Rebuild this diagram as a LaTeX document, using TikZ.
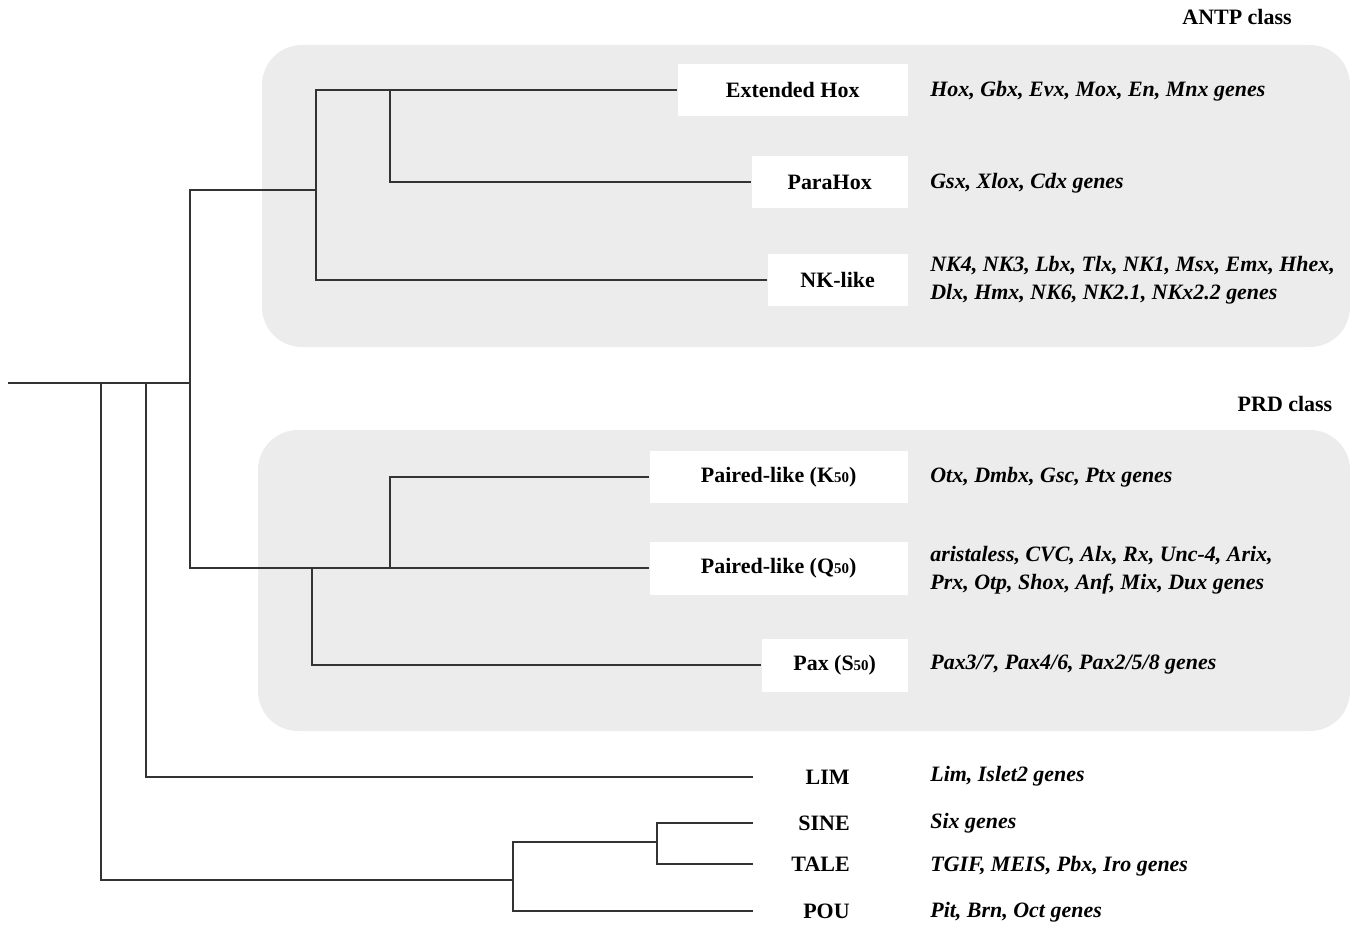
\documentclass[tikz,border=0pt]{standalone}
\usepackage{fontspec}
\setmainfont{Liberation Serif}
\usetikzlibrary{positioning,calc}
\newcommand{\resfifty}{{\fontsize{8.5}{9}\selectfont 50}}

\begin{document}
\begin{tikzpicture}[
    x=0.02cm, y=-0.02cm,
    font=\fontsize{12.5}{15.9}\selectfont,
    clade/.style={fill=white, font=\fontsize{12.5}{15}\selectfont\bfseries, minimum height=1.06cm, inner sep=0pt, anchor=east},
    family/.style={font=\fontsize{12.5}{15}\selectfont\bfseries, text width=1.92cm, align=right, inner sep=0pt, anchor=east},
    genes/.style={font=\fontsize{12.5}{15.9}\selectfont\bfseries\itshape, align=left, anchor=west, inner sep=0pt},
    heading/.style={font=\fontsize{12.5}{15}\selectfont\bfseries, inner sep=0pt},
    region/.style={fill=gray!15, rounded corners=0.8cm},
    branch/.style={line width=0.8pt, black!80}
  ]
    \useasboundingbox (0,0) rectangle (1352,926);

    % class backgrounds
    \fill[region] (262,45) rectangle (1350,347);
    \fill[region] (258,430) rectangle (1350,731);
    \node[heading] (antpcls) at (1237,17) {ANTP class};
    \node[heading] (prdcls) at (1285,404) {PRD class};

    % ANTP class
    \node[clade, minimum width=4.6cm] (exthox) at (908,90) {Extended Hox};
    \node[clade, minimum width=3.12cm] (parahox) at (908,182) {ParaHox};
    \node[clade, minimum width=2.8cm] (nklike) at (908,280) {NK-like};
    \node[genes] (exthoxg) at (930,91) {Hox, Gbx, Evx, Mox, En, Mnx genes};
    \node[genes] (parahoxg) at (930,183) {Gsx, Xlox, Cdx genes};
    \node[genes] (nklikeg) at (930,280) {NK4, NK3, Lbx, Tlx, NK1, Msx, Emx, Hhex,\\Dlx, Hmx, NK6, NK2.1, NKx2.2 genes};

    % PRD class
    \node[clade, minimum width=5.16cm] (pairedk) at (908,477) {Paired-like (K\resfifty)};
    \node[clade, minimum width=5.16cm] (pairedq) at (908,568) {Paired-like (Q\resfifty)};
    \node[clade, minimum width=2.92cm] (paxs) at (908,665) {Pax (S\resfifty)};
    \node[genes] (pairedkg) at (930,477) {Otx, Dmbx, Gsc, Ptx genes};
    \node[genes] (pairedqg) at (930,570) {aristaless, CVC, Alx, Rx, Unc-4, Arix,\\Prx, Otp, Shox, Anf, Mix, Dux genes};
    \node[genes] (paxsg) at (930,665) {Pax3/7, Pax4/6, Pax2/5/8 genes};

    % other classes
    \node[family] (lim) at (850,777) {LIM};
    \node[family] (sine) at (850,823) {SINE};
    \node[family] (tale) at (850,864) {TALE};
    \node[family] (pou) at (850,911) {POU};
    \node[genes] (limg) at (930,776) {Lim, Islet2 genes};
    \node[genes] (sineg) at (930,823) {Six genes};
    \node[genes] (taleg) at (930,866) {TGIF, MEIS, Pbx, Iro genes};
    \node[genes] (poug) at (930,912) {Pit, Brn, Oct genes};

    % tree
    \coordinate (root) at (8,383);
    \coordinate (basal) at (101,383);
    \coordinate (limj) at (146,383);
    \coordinate (top) at (190,383);
    \coordinate (antp) at (316,190);
    \coordinate (hoxj) at (390,90);
    \coordinate (kqj) at (390,568);
    \coordinate (paxj) at (312,568);
    \coordinate (sinepou) at (513,880);
    \coordinate (sinetale) at (657,842);

    \draw[branch] (root) -- (top);
    \draw[branch] (top) |- (antp);
    \draw[branch] (antp) |- (exthox.west);
    \draw[branch] (antp) |- (nklike.west);
    \draw[branch] (hoxj) |- (parahox.west);
    \draw[branch] (top) |- (pairedq.west);
    \draw[branch] (kqj) |- (pairedk.west);
    \draw[branch] (paxj) |- (paxs.west);
    \draw[branch] (limj) |- (lim.west);
    \draw[branch] (basal) |- (sinepou);
    \draw[branch] (sinepou) |- (sinetale);
    \draw[branch] (sinepou) |- (pou.west);
    \draw[branch] (sinetale) |- (sine.west);
    \draw[branch] (sinetale) |- (tale.west);
  \end{tikzpicture}
\end{document}
